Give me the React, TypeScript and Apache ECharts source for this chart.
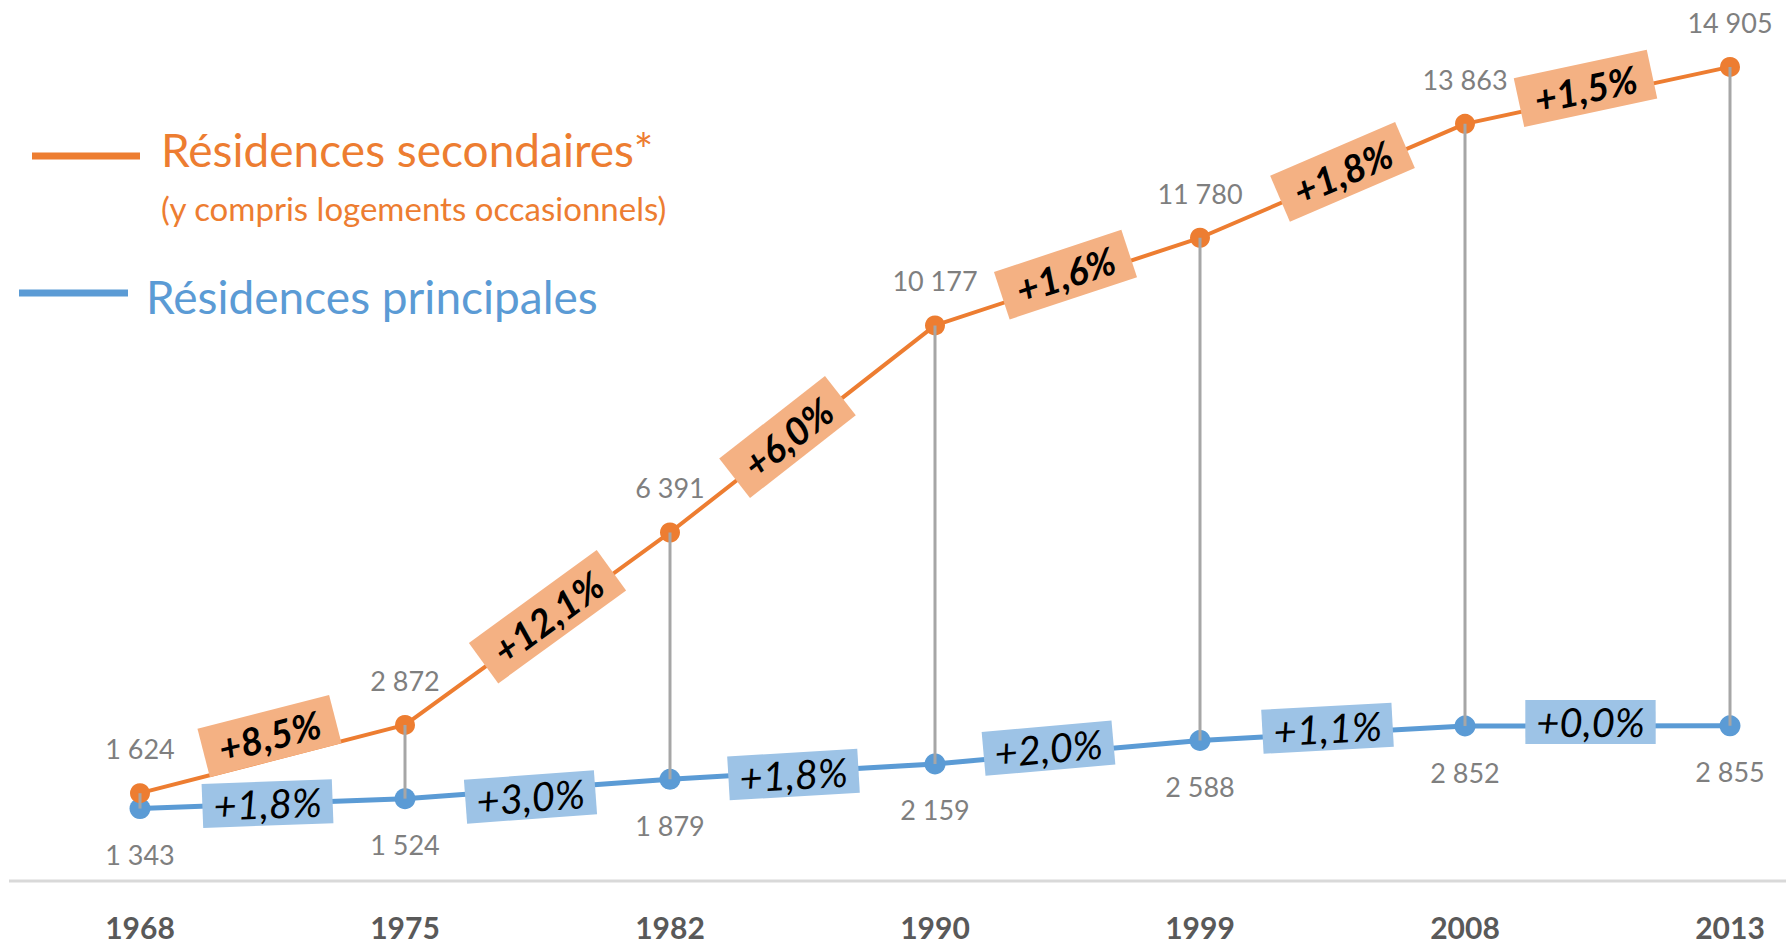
import React, { useEffect, useRef } from 'react';
import * as echarts from 'echarts';

const years = ['1968', '1975', '1982', '1990', '1999', '2008', '2013'];
const secondaires = [1624, 2872, 6391, 10177, 11780, 13863, 14905];
const principales = [1343, 1524, 1879, 2159, 2588, 2852, 2855];
const secondairesGrowth = ['+8,5%', '+12,1%', '+6,0%', '+1,6%', '+1,8%', '+1,5%'];
const principalesGrowth = ['+1,8%', '+3,0%', '+1,8%', '+2,0%', '+1,1%', '+0,0%'];

// layout nudges of the growth tags relative to segment midpoints (px)
const secondairesTagShift = [[-3, -23], [10, -12], [-15, 8], [-2, -7], [10, -9], [-12, -7]];
const principalesTagShift = [[-5, 0], [-7, 8], [-9, 3], [-19, -4], [-5, -5], [-7, -4]];

const ORANGE = '#ED7D31';
const BLUE = '#5B9BD5';
const FONT = 'Lato';

const fmt = (n: number) => String(n).replace(/\B(?=(\d{3})+(?!\d))/g, ' ');

function tagSeries(values: number[], labels: string[], shifts: number[][], bg: string, font: string, padding: number[]) {
  return {
    type: 'custom',
    z: 6,
    silent: true,
    data: labels.map((_, i) => [i, values[i], values[i + 1]]),
    renderItem: (params: any, api: any) => {
      const i = api.value(0);
      const p0 = api.coord([i, api.value(1)]);
      const p1 = api.coord([i + 1, api.value(2)]);
      const rot = Math.atan2(p0[1] - p1[1], p1[0] - p0[0]);
      const s = shifts[params.dataIndex];
      return {
        type: 'text',
        x: (p0[0] + p1[0]) / 2 + s[0],
        y: (p0[1] + p1[1]) / 2 + s[1],
        rotation: rot,
        style: {
          text: labels[params.dataIndex],
          font,
          fill: '#000',
          backgroundColor: bg,
          padding,
          align: 'center',
          verticalAlign: 'middle',
        },
      };
    },
  };
}

export default function App() {
  const ref = useRef<HTMLDivElement>(null);
  useEffect(() => {
    const chart = echarts.init(ref.current!, undefined, { renderer: 'svg' });
    chart.setOption({
      animation: false,
      backgroundColor: '#fff',
      grid: { left: 140, right: 56, top: 7, bottom: 63 },
      xAxis: {
        type: 'category',
        data: years,
        boundaryGap: false,
        axisLine: { show: false },
        axisTick: { show: false },
        axisLabel: { color: '#595959', fontFamily: FONT, fontWeight: 'bold', fontSize: 30, margin: 30 },
        splitLine: { show: false },
      },
      yAxis: { type: 'value', min: 0, max: 16000, show: false, splitLine: { show: false } },
      graphic: [
        { type: 'line', shape: { x1: 9, y1: 881, x2: 1786, y2: 881 }, style: { stroke: '#D9D9D9', lineWidth: 3 } },
        { type: 'line', shape: { x1: 32, y1: 156, x2: 140, y2: 156 }, style: { stroke: ORANGE, lineWidth: 7 } },
        { type: 'text', x: 161, y: 149, style: { text: 'Résidences secondaires*', font: `46px ${FONT}`, fill: ORANGE, verticalAlign: 'middle' } },
        { type: 'text', x: 161, y: 208, style: { text: '(y compris logements occasionnels)', font: `33px ${FONT}`, fill: ORANGE, verticalAlign: 'middle' } },
        { type: 'line', shape: { x1: 19, y1: 293, x2: 128, y2: 293 }, style: { stroke: BLUE, lineWidth: 7 } },
        { type: 'text', x: 146, y: 296, style: { text: 'Résidences principales', font: `46px ${FONT}`, fill: BLUE, verticalAlign: 'middle' } },
      ],
      series: [
        {
          name: 'Résidences principales',
          type: 'line',
          data: principales,
          z: 2,
          symbol: 'circle',
          symbolSize: 21,
          lineStyle: { color: BLUE, width: 5 },
          itemStyle: { color: BLUE },
          label: {
            show: true,
            position: 'bottom',
            distance: 22,
            color: '#7F7F7F',
            fontFamily: FONT,
            fontSize: 27,
            formatter: (p: any) => fmt(p.value),
          },
        },
        {
          name: 'Résidences secondaires',
          type: 'line',
          data: secondaires,
          z: 3,
          symbol: 'circle',
          symbolSize: 20,
          lineStyle: { color: ORANGE, width: 4 },
          itemStyle: { color: ORANGE },
          label: {
            show: true,
            position: 'top',
            distance: 21,
            color: '#7F7F7F',
            fontFamily: FONT,
            fontSize: 27,
            formatter: (p: any) => fmt(p.value),
          },
        },
        {
          type: 'custom',
          z: 5,
          silent: true,
          data: years.map((_, i) => [i, principales[i], secondaires[i]]),
          renderItem: (params: any, api: any) => {
            const a = api.coord([api.value(0), api.value(1)]);
            const b = api.coord([api.value(0), api.value(2)]);
            return {
              type: 'line',
              shape: { x1: a[0], y1: a[1], x2: b[0], y2: b[1] },
              style: { stroke: '#A6A6A6', lineWidth: 3 },
            };
          },
        },
        tagSeries(principales, principalesGrowth, principalesTagShift, '#9DC3E6', `italic 40px ${FONT}`, [2, 11]),
        tagSeries(secondaires, secondairesGrowth, secondairesTagShift, '#F4B183', `italic bold 38px ${FONT}`, [6, 16]),
      ],
    });
    return () => chart.dispose();
  }, []);
  return <div ref={ref} style={{ position: 'absolute', left: 0, top: 0, width: 1786, height: 945 }} />;
}
